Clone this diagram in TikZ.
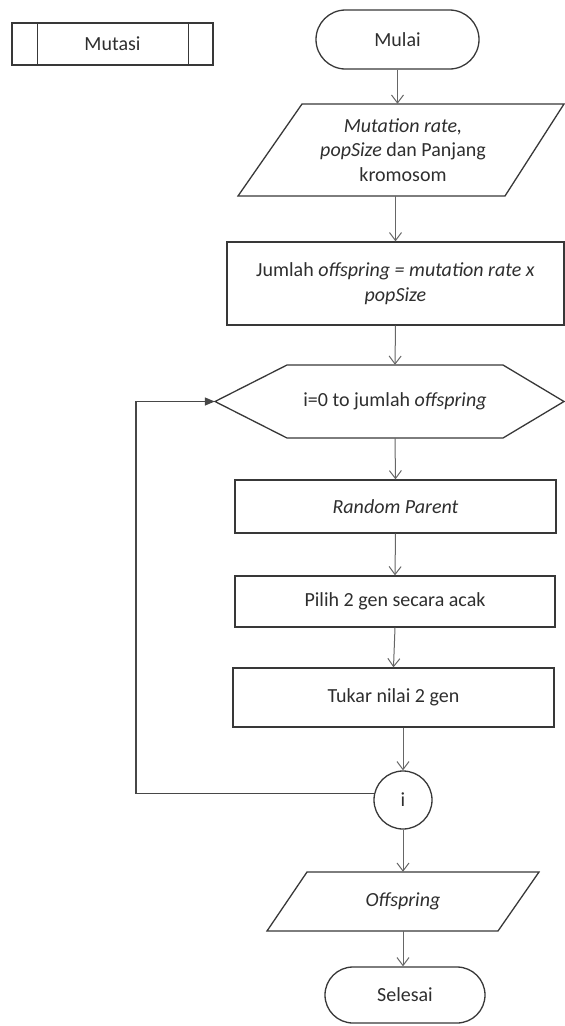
\documentclass[tikz,border=0pt]{standalone}
\usepackage{fontspec}
\setmainfont{Carlito}
\usetikzlibrary{shapes.misc,arrows.meta,calc}
\tikzset{
  shapeline/.style={draw=black!78, line width=1.3pt},
  txt/.style={font=\fontsize{20}{24.5}\selectfont, text=black!82, align=center, inner sep=0pt},
  procbox/.style={shapeline, txt, rectangle},
  flow/.style={draw=black!60, line width=1pt, -{Straight Barb[length=8pt,width=12pt]}},
  loopline/.style={draw=black!72, line width=1.3pt, -{Triangle[length=10pt,width=8pt]}},
}
\begin{document}
\begin{tikzpicture}[x=1pt,y=-1pt]
\useasboundingbox (0,0) rectangle (565,1026);

% predefined-process label
\node[shapeline, txt, minimum width=201pt, minimum height=42pt] (mutasi) at (112.5,44) {Mutasi};
\draw[shapeline] ([xshift=26pt]mutasi.north west) -- ([xshift=26pt]mutasi.south west);
\draw[shapeline] ([xshift=-25pt]mutasi.north east) -- ([xshift=-25pt]mutasi.south east);

% start
\node[shapeline, txt, rounded rectangle, minimum width=163pt, minimum height=59pt] (mulai) at (397.5,39.5) {Mulai};

% input parameters
\draw[shapeline] (302,104) -- (564,104) -- (505,196) -- (238,196) -- cycle;
\node[txt, minimum height=92pt] (input) at (403,150) {\textit{Mutation rate,}\\\textit{popSize} dan Panjang\\kromosom};

% number of offspring
\node[procbox, minimum width=337pt, minimum height=83pt] (jumlah) at (395.5,283.5) {Jumlah \textit{offspring = mutation rate x}\\\textit{popSize}};

% loop header
\draw[shapeline] (215,401.5) -- (287,365) -- (503,365) -- (564,401.5) -- (503,438) -- (287,438) -- cycle;
\node[txt, minimum width=360pt, minimum height=73pt] (loop) at (395,401.5) {i=0 to jumlah \textit{offspring}};

% loop body
\node[procbox, minimum width=321pt, minimum height=53pt] (rp) at (395.5,506.5) {\textit{Random Parent}};
\node[procbox, minimum width=320pt, minimum height=51pt] (pilih) at (395,601.5) {Pilih 2 gen secara acak};
\node[procbox, minimum width=321pt, minimum height=59pt] (tukar) at (393.5,697.5) {Tukar nilai 2 gen};
\node[shapeline, txt, circle, minimum size=58pt] (ci) at (403,800) {i};

% output
\draw[shapeline] (307,872) -- (539,872) -- (498,931) -- (267,931) -- cycle;
\node[txt, minimum height=59pt] (out) at (403,901.5) {\textit{Offspring}};

% end
\node[shapeline, txt, rounded rectangle, minimum width=160pt, minimum height=56pt] (selesai) at (405,995) {Selesai};

% connectors
\draw[flow] (mulai.south) -- (mulai.south |- input.north);
\draw[flow] (jumlah.north |- input.south) -- (jumlah.north);
\draw[flow] (jumlah.south) -- (loop.north);
\draw[flow] (loop.south) -- (rp.north);
\draw[flow] (rp.south) -- (pilih.north);
\draw[flow] (pilih.south) -- (tukar.north);
\draw[flow] (ci.north |- tukar.south) -- (ci.north);
\draw[flow] (ci.south) -- (out.north);
\draw[flow] (out.south) -- (out.south |- selesai.north);

% loop return
\coordinate (lc) at (136,401.5);
\draw[loopline] (ci.168) -| (lc) -- (loop.west);
\end{tikzpicture}
\end{document}
